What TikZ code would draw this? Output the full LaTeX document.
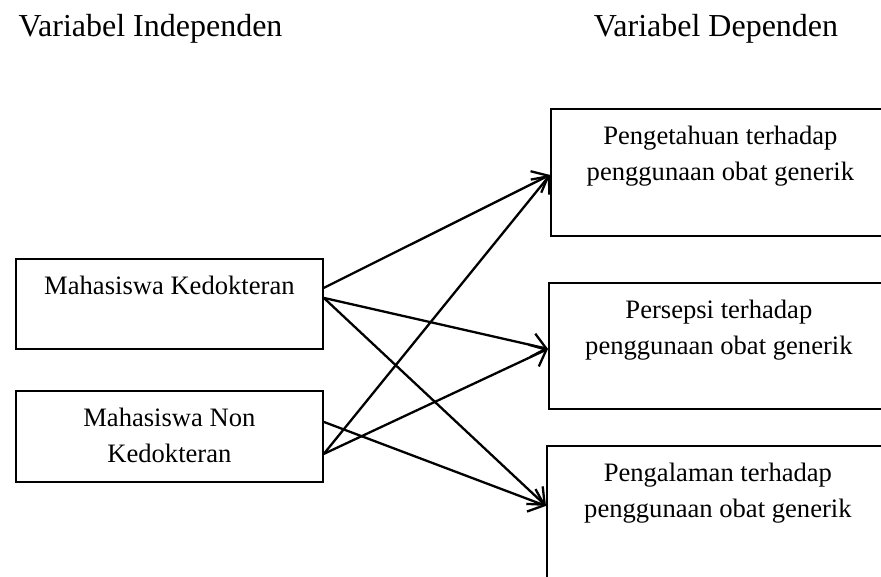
\documentclass[tikz,border=0pt]{standalone}
\usepackage{fontspec}
\setmainfont{Liberation Serif}
\usetikzlibrary{arrows.meta}
\tikzset{
	varbox/.style={draw, line width=1.8pt, rectangle, anchor=north west, inner sep=0pt},
	boxtext/.style={anchor=north, align=center, inner sep=0pt, yshift=-18pt, font=\fontsize{26.6}{36}\selectfont},
	judul/.style={anchor=base, inner sep=0pt, font=\fontsize{32}{38}\selectfont},
	panah/.style={line width=2.3pt, -{Straight Barb[length=14pt,width=24pt,line width=2.3pt]}}
}

\begin{document}
\begin{tikzpicture}[x=1pt, y=-1pt]
				\clip (0, 0) rectangle (881, 577);
				
				\node[judul] (indep) at (150.5, 37) {Variabel Independen};
				\node[judul] (dep) at (716, 37) {Variabel Dependen};
				
				\node[varbox, minimum width=307pt, minimum height=90pt, label={[boxtext]north:Mahasiswa Kedokteran}] (kedok) at (15, 258) {};
				\node[varbox, minimum width=307pt, minimum height=91pt, label={[boxtext]north:Mahasiswa Non\\Kedokteran}] (nonkedok) at (15, 390) {};
				
				\node[varbox, minimum width=339pt, minimum height=127pt, label={[boxtext]north:Pengetahuan terhadap\\penggunaan obat generik}] (tahu) at (550, 108) {};
				\node[varbox, minimum width=340pt, minimum height=126pt, label={[boxtext]north:Persepsi terhadap\\penggunaan obat generik}] (sepsi) at (548, 282) {};
				\node[varbox, minimum width=342pt, minimum height=140pt, label={[boxtext]north:Pengalaman terhadap\\penggunaan obat generik}] (alami) at (546, 445) {};
				
				\draw[panah] ([yshift=16pt]kedok.east) -- ([yshift=-2.5pt]tahu.west);
				\draw[panah] ([yshift=6pt]kedok.east) -- ([yshift=-3pt]sepsi.west);
				\draw[panah] ([yshift=6pt]kedok.east) -- ([yshift=10pt]alami.west);
				\draw[panah] ([yshift=14.5pt]nonkedok.east) -- ([yshift=10pt]alami.west);
				\draw[panah] ([yshift=-17.5pt]nonkedok.east) -- ([yshift=-2.5pt]tahu.west);
				\draw[panah] ([yshift=-17.5pt]nonkedok.east) -- ([yshift=-3pt]sepsi.west);
			\end{tikzpicture}
\end{document}
